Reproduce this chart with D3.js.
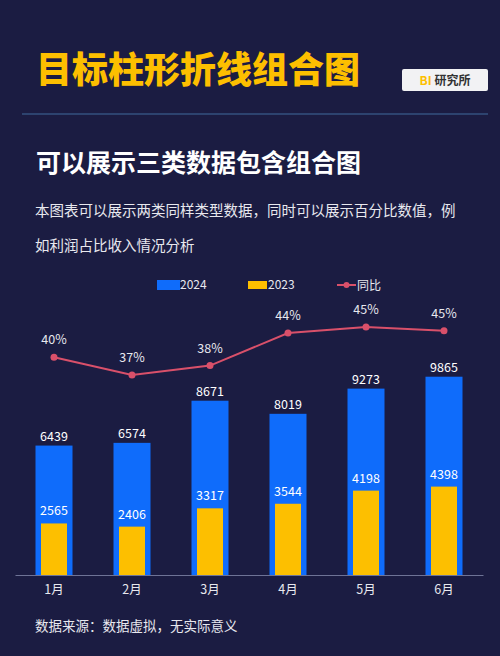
<!DOCTYPE html>
<html>
<head>
<meta charset="utf-8">
<script src="https://cdn.jsdelivr.net/npm/d3@7"></script>
<style>
  body { margin: 0; background: #1b1c42; }
  svg { display: block; font-family: "Noto Sans CJK SC", "Noto Sans", sans-serif; }
</style>
</head>
<body>
<svg id="chart" width="500" height="656"></svg>
<script>
// chart data
const months = ['1月', '2月', '3月', '4月', '5月', '6月'];
const values2024 = [6439, 6574, 8671, 8019, 9273, 9865];
const values2023 = [2565, 2406, 3317, 3544, 4198, 4398];
const ratio = [39.8, 36.6, 38.3, 44.2, 45.3, 44.6];
const ratioLabels = ['40%', '37%', '38%', '44%', '45%', '45%'];

const blue = '#0f6cfb', yellow = '#fdbf00', red = '#d9506a';

const svg = d3.select('#chart');
svg.append('rect').attr('width', 500).attr('height', 656).attr('fill', '#1b1c42');

// header
svg.append('text').attr('x', 36).attr('y', 83).attr('fill', yellow)
  .attr('font-size', 36).attr('font-weight', 900).text('目标柱形折线组合图');
svg.append('rect').attr('x', 402).attr('y', 69).attr('width', 86).attr('height', 22)
  .attr('rx', 2).attr('fill', '#f2f2f4');
const tag = svg.append('text').attr('x', 445).attr('y', 85).attr('text-anchor', 'middle')
  .attr('font-size', 12).attr('font-weight', 700);
tag.append('tspan').attr('fill', yellow).text('BI ');
tag.append('tspan').attr('fill', '#333').text('研究所');
svg.append('line').attr('x1', 22).attr('x2', 488).attr('y1', 114).attr('y2', 114)
  .attr('stroke', '#34507f').attr('stroke-width', 1.5);

svg.append('text').attr('x', 36).attr('y', 172).attr('fill', '#fff')
  .attr('font-size', 25).attr('font-weight', 700).text('可以展示三类数据包含组合图');
svg.append('text').attr('x', 35).attr('y', 216).attr('fill', '#e8e8ee').attr('font-size', 14.5)
  .text('本图表可以展示两类同样类型数据，同时可以展示百分比数值，例');
svg.append('text').attr('x', 35).attr('y', 251).attr('fill', '#e8e8ee').attr('font-size', 14.5)
  .text('如利润占比收入情况分析');

// legend
const legend = svg.append('g').attr('font-size', 12).attr('fill', '#e8e8ee');
legend.append('rect').attr('x', 157).attr('y', 280).attr('width', 23).attr('height', 10).attr('fill', blue);
legend.append('text').attr('x', 180).attr('y', 289).text('2024');
legend.append('rect').attr('x', 248).attr('y', 281).attr('width', 19).attr('height', 8).attr('fill', yellow);
legend.append('text').attr('x', 268).attr('y', 289).text('2023');
legend.append('line').attr('x1', 337).attr('x2', 356).attr('y1', 285).attr('y2', 285)
  .attr('stroke', red).attr('stroke-width', 2);
legend.append('circle').attr('cx', 346.5).attr('cy', 285).attr('r', 3).attr('fill', red);
legend.append('text').attr('x', 357).attr('y', 290).text('同比');

// scales
const x = d3.scaleBand().domain(months).range([15, 483]).padding(0);
const y = d3.scaleLinear().domain([0, 10000]).range([575, 374]);
const yr = d3.scaleLinear().domain([0, 100]).range([577, 25]);
const cx = m => x(m) + x.bandwidth() / 2;

// axis
const axis = svg.append('g').attr('transform', 'translate(0,575)')
  .call(d3.axisBottom(x).tickSize(0).tickPadding(10));
axis.select('.domain').attr('stroke', '#6e7396');
axis.selectAll('text').attr('fill', '#e8e8ee').attr('font-size', 12.5)
  .attr('font-family', '"Noto Sans CJK SC", sans-serif');

// 2024 bars
svg.selectAll('.b24').data(values2024).join('rect')
  .attr('x', (d, i) => cx(months[i]) - 18.5).attr('width', 37)
  .attr('y', d => y(d)).attr('height', d => y(0) - y(d)).attr('fill', blue);
svg.selectAll('.l24').data(values2024).join('text')
  .attr('x', (d, i) => cx(months[i])).attr('y', d => y(d) - 5)
  .attr('text-anchor', 'middle').attr('fill', '#fff').attr('font-size', 12.5).text(d => d);

// 2023 bars
svg.selectAll('.b23').data(values2023).join('rect')
  .attr('x', (d, i) => cx(months[i]) - 13).attr('width', 26)
  .attr('y', d => y(d)).attr('height', d => y(0) - y(d)).attr('fill', yellow);
svg.selectAll('.l23').data(values2023).join('text')
  .attr('x', (d, i) => cx(months[i])).attr('y', d => y(d) - 8)
  .attr('text-anchor', 'middle').attr('fill', '#fff').attr('font-size', 12.5).text(d => d);

// ratio line
svg.append('path').datum(ratio)
  .attr('d', d3.line().x((d, i) => cx(months[i])).y(d => yr(d)))
  .attr('fill', 'none').attr('stroke', red).attr('stroke-width', 2);
svg.selectAll('.dot').data(ratio).join('circle')
  .attr('cx', (d, i) => cx(months[i])).attr('cy', d => yr(d)).attr('r', 3.5).attr('fill', red);
svg.selectAll('.rl').data(ratio).join('text')
  .attr('x', (d, i) => cx(months[i])).attr('y', d => yr(d) - 13)
  .attr('text-anchor', 'middle').attr('fill', '#e8e8ee').attr('font-size', 12.5)
  .text((d, i) => ratioLabels[i]);

svg.append('text').attr('x', 35).attr('y', 631).attr('fill', '#e8e8ee').attr('font-size', 13.5)
  .text('数据来源：数据虚拟，无实际意义');
</script>
</body>
</html>
